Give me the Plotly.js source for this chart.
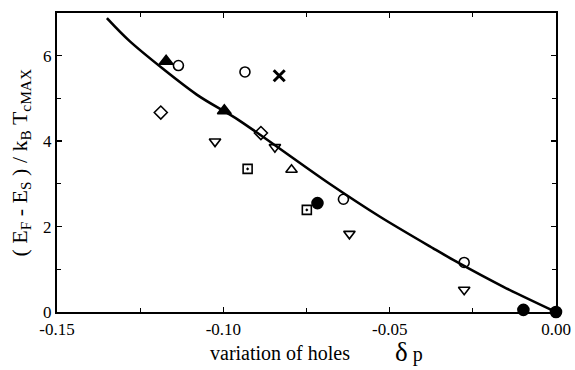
<!DOCTYPE html>
<html><head><meta charset="utf-8">
<script src="https://cdn.plot.ly/plotly-3.0.1.min.js"></script>
<style>html,body{margin:0;padding:0;background:#fff}</style>
</head><body><div id="chart" style="width:575px;height:370px"></div>
<script>
// fit curve
const curveX = [-0.135, -0.128, -0.108, -0.0955, -0.0684, -0.0529, -0.0369, -0.0309, -0.0158, 0];
const curveY = [6.88, 6.33, 5.09, 4.50, 3.02, 2.23, 1.49, 1.22, 0.59, 0];
// data groups
const triFilledX = [-0.1172, -0.0997];
const triFilledY = [5.87, 4.71];
const circOpenX = [-0.1135, -0.0935, -0.0639, -0.0276];
const circOpenY = [5.77, 5.62, 2.64, 1.16];
const crossX = [-0.0832];
const crossY = [5.53];
const diamX = [-0.1188, -0.0887];
const diamY = [4.67, 4.19];
const triDownX = [-0.1025, -0.0845, -0.0621, -0.0276];
const triDownY = [3.99, 3.86, 1.83, 0.52];
const triUpX = [-0.0795];
const triUpY = [3.33];
const sqDotX = [-0.0927, -0.0749];
const sqDotY = [3.35, 2.39];
const circFilledX = [-0.0717, -0.0098, 0];
const circFilledY = [2.55, 0.05, 0];
const xTickVals = [-0.15, -0.10, -0.05, 0.00];
const xTickText = ['-0.15', '-0.10', '-0.05', '0.00'];
const yTickVals = [0, 2, 4, 6];
const yTickText = ['0', '2', '4', '6'];

const F = 'Liberation Serif';
function mk(x, y, symbol, size, extra) {
  return Object.assign({x, y, type:'scatter', mode:'markers', cliponaxis:false,
    marker:{symbol, size, color:'#000', line:{color:'#000', width:1.6}}}, extra||{});
}
const traces = [
  {x:curveX, y:curveY, type:'scatter', mode:'lines', line:{color:'#000', width:2.6, shape:'spline', smoothing:0.8}},
  mk(triFilledX, triFilledY, 'triangle-up', 12),
  mk(circOpenX, circOpenY, 'circle-open', 10),
  {x:crossX, y:crossY, type:'scatter', mode:'markers', marker:{symbol:'x-thin-open', size:11, color:'#000', line:{color:'#000', width:3}}},
  mk(diamX, diamY, 'diamond-open', 10),
  mk(triDownX, triDownY, 'triangle-down-open', 10),
  mk(triUpX, triUpY, 'triangle-up-open', 10),
  mk(sqDotX, sqDotY, 'square-open-dot', 9),
  mk(circFilledX, circFilledY, 'circle', 11)
];
function ax(extra) {
  return Object.assign({showgrid:false, zeroline:false, showline:true, linecolor:'#000', linewidth:2.2,
    mirror:'ticks', ticks:'inside', ticklen:5, tickwidth:1.5, tickcolor:'#000',
    tickfont:{family:F, size:17, color:'#000'}}, extra);
}
const layout = {
  width:575, height:370, margin:{l:57, r:19, t:13, b:58},
  font:{family:F, color:'#000'},
  paper_bgcolor:'#fff', plot_bgcolor:'#fff', showlegend:false,
  xaxis:ax({range:[-0.15, 0], tickvals:xTickVals, ticktext:xTickText,
    minor:{tickvals:[-0.125,-0.075,-0.025], ticks:'inside', ticklen:4, tickwidth:1.2, tickcolor:'#000'}}),
  yaxis:ax({range:[0, 7], tickvals:yTickVals, ticktext:yTickText,
    minor:{tickvals:[1,3,5,7], ticks:'inside', ticklen:4, tickwidth:1.2, tickcolor:'#000'}}),
  annotations:[
    {xref:'paper', yref:'paper', x:0.447, y:-0.182, xanchor:'center', yanchor:'bottom', showarrow:false,
     text:'variation of holes', font:{family:F, size:20, color:'#000'}},
    {xref:'paper', yref:'paper', x:0.705, y:-0.19, xanchor:'center', yanchor:'bottom', showarrow:false,
     text:'<span style="font-size:27px">δ</span><span style="font-size:20px"> p</span>', font:{family:F, size:22, color:'#000'}},
    {xref:'paper', yref:'paper', x:-0.074, y:0.5, xanchor:'center', yanchor:'middle', showarrow:false, textangle:-90,
     text:'( E<sub>F</sub> - E<sub>S</sub> ) / k<sub>B</sub> T<sub>cMAX</sub>', font:{family:F, size:22, color:'#000'}}
  ]
};
Plotly.newPlot('chart', traces, layout, {displayModeBar:false, staticPlot:true});
</script></body></html>
